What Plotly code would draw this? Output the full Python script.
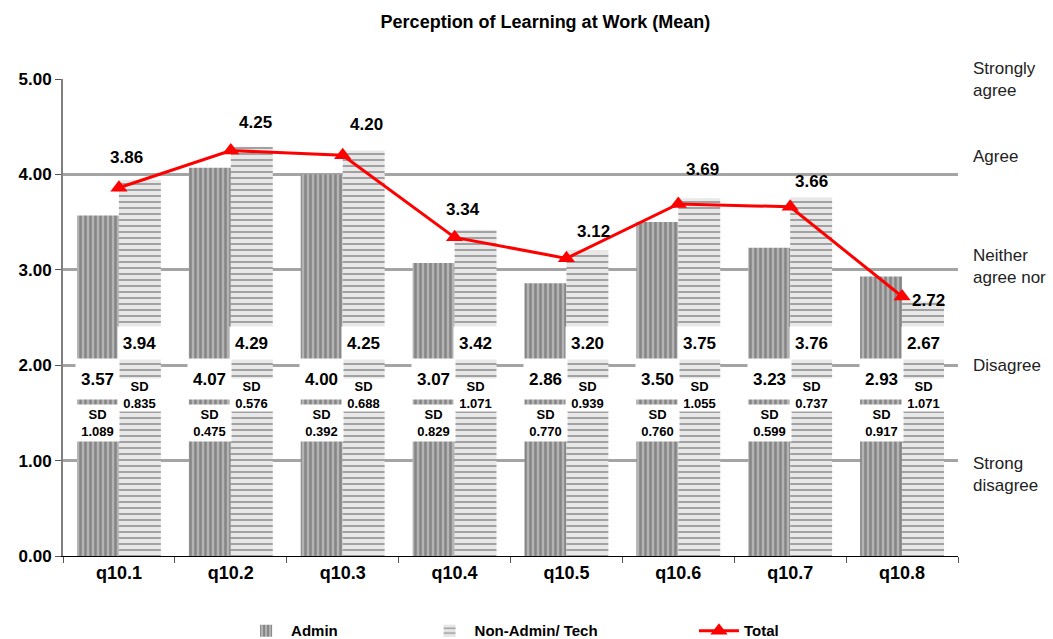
import plotly.graph_objects as go

categories = ["q10.1", "q10.2", "q10.3", "q10.4", "q10.5", "q10.6", "q10.7", "q10.8"]
admin = [3.57, 4.07, 4.00, 3.07, 2.86, 3.50, 3.23, 2.93]
nonadmin = [3.94, 4.29, 4.25, 3.42, 3.20, 3.75, 3.76, 2.67]
total = [3.86, 4.25, 4.20, 3.34, 3.12, 3.69, 3.66, 2.72]
admin_sd = ["1.089", "0.475", "0.392", "0.829", "0.770", "0.760", "0.599", "0.917"]
nonadmin_sd = ["0.835", "0.576", "0.688", "1.071", "0.939", "1.055", "0.737", "1.071"]
scale_labels = ["Strongly<br>agree", "Agree", "Neither<br>agree nor", "Disagree", "Strong<br>disagree"]
scale_values = [5, 4, 3, 2, 1]

# styling (label offsets in px)
total_dx = [8, 25, 24, 8, 27, 24, 21, 26]
total_dy = [30, 28, 31, 28, 27, 34, 25, -4]
scale_dy = [0, 18, 3, 0, -14]

FONT = "Arial, Liberation Sans, sans-serif"
BARGAP = 0.25
half = (1 - BARGAP) / 4  # offset of each bar center from category center

fig = go.Figure()
fig.add_trace(go.Bar(
    x=categories, y=admin, name="Admin", legend="legend", showlegend=True,
    marker=dict(color="#b4b4b4", line=dict(width=0),
                pattern=dict(shape="|", fgcolor="#565656", bgcolor="#b4b4b4", size=5, solidity=0.5)),
))
fig.add_trace(go.Bar(
    x=categories, y=nonadmin, name="Non-Admin/ Tech", legend="legend2", showlegend=True,
    marker=dict(color="#e6e6e6", line=dict(width=0),
                pattern=dict(shape="-", fgcolor="#3c3c3c", bgcolor="#e8e8e8", size=6, solidity=0.28)),
))
fig.add_trace(go.Scatter(
    x=categories, y=total, name="Total", mode="lines+markers", legend="legend3", showlegend=True,
    line=dict(color="#ff0000", width=3),
    marker=dict(symbol="triangle-up", size=15, color="#ff0000"),
))

ann = []
for i in range(len(categories)):
    xa = i - half
    xn = i + half
    ann.append(dict(x=xa, y=1.86, xref="x", yref="y", text=f"<b>{admin[i]:.2f}</b>",
                    showarrow=False, bgcolor="white", width=41, height=38,
                    font=dict(size=17, color="black", family=FONT)))
    ann.append(dict(x=xa, y=1.39, xref="x", yref="y", text=f"<b>SD</b><br><b>{admin_sd[i]}</b>",
                    showarrow=False, bgcolor="white", width=41, height=34,
                    font=dict(size=13, color="black", family=FONT)))
    ann.append(dict(x=xn, y=2.23, xref="x", yref="y", text=f"<b>{nonadmin[i]:.2f}</b>",
                    showarrow=False, bgcolor="white", width=41, height=30,
                    font=dict(size=17, color="black", family=FONT)))
    ann.append(dict(x=xn, y=1.69, xref="x", yref="y", text=f"<b>SD</b><br><b>{nonadmin_sd[i]}</b>",
                    showarrow=False, bgcolor="white", width=41, height=30,
                    font=dict(size=13, color="black", family=FONT)))
    ann.append(dict(x=i, y=total[i], xref="x", yref="y", text=f"<b>{total[i]:.2f}</b>",
                    showarrow=False, xshift=total_dx[i], yshift=total_dy[i],
                    font=dict(size=17, color="black", family=FONT)))

for lab, v, dy in zip(scale_labels, scale_values, scale_dy):
    ann.append(dict(x=1, y=v, xref="paper", yref="y", text=lab, showarrow=False,
                    xanchor="left", xshift=13, yshift=dy, align="left",
                    font=dict(size=17, color="#222222", family=FONT)))

leg_common = dict(orientation="h", xanchor="left", y=-0.157, yanchor="middle",
                  font=dict(size=15, color="black", family=FONT, weight="bold"), itemwidth=40)

fig.update_layout(
    width=1053, height=639, showlegend=True,
    margin=dict(l=63, r=95, t=79, b=83, autoexpand=False),
    paper_bgcolor="white", plot_bgcolor="white",
    barmode="group", bargap=BARGAP, bargroupgap=0,
    font=dict(family=FONT, color="black"),
    title=dict(text="<b>Perception of Learning at Work (Mean)</b>", x=0.518, xanchor="center",
               y=0.966, yanchor="middle", font=dict(size=18, color="black", family=FONT)),
    legend=dict(x=0.199, **leg_common),
    legend2=dict(x=0.404, **leg_common),
    legend3=dict(x=0.705, **leg_common),
    annotations=ann,
    xaxis=dict(showgrid=False, showline=True, linecolor="black", linewidth=1,
               ticks="outside", tickson="boundaries", ticklen=6, tickcolor="#555555",
               tickfont=dict(size=18, family=FONT, color="black", weight="bold"),
               automargin=False),
    yaxis=dict(range=[0, 5], tickvals=[0, 1, 2, 3, 4, 5], tickformat=".2f",
               showgrid=True, gridcolor="#a4a4a4", gridwidth=3, zeroline=False,
               showline=True, linecolor="#808080", linewidth=2,
               ticks="outside", ticklen=6, tickcolor="#555555",
               tickfont=dict(size=17, family=FONT, color="black", weight="bold"),
               automargin=False),
)

fig.write_html("out.html", config={"displayModeBar": False},
               post_script="document.body.style.margin='0';document.body.style.overflow='hidden';")
